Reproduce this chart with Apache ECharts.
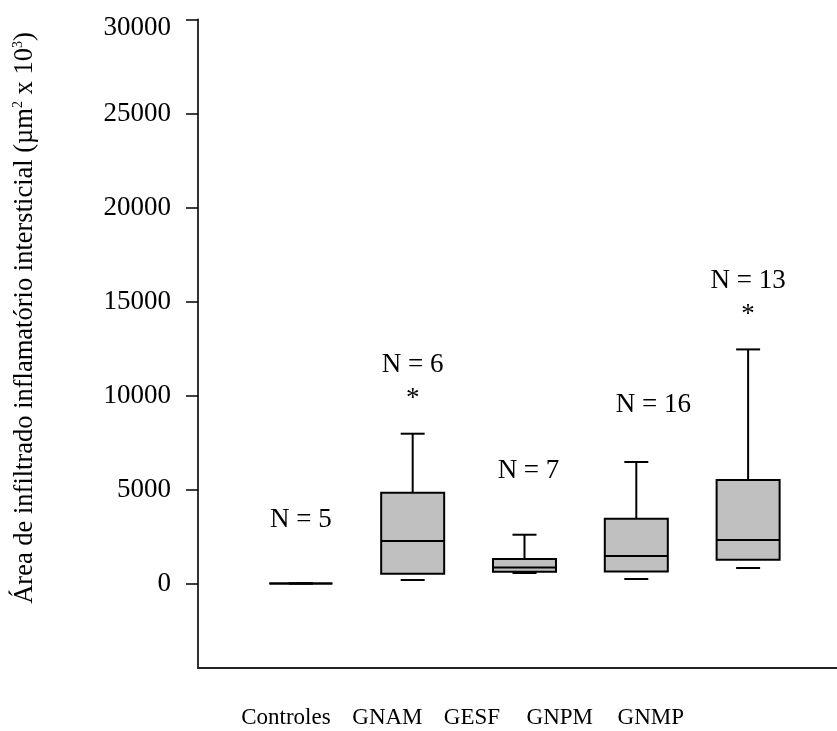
<!DOCTYPE html>
<html>
<head>
<meta charset="utf-8">
<script src="https://cdn.jsdelivr.net/npm/echarts@6/dist/echarts.min.js"></script>
<style>
  html, body { margin: 0; padding: 0; background: #fff; }
  #chart { width: 837px; height: 731px; }
</style>
</head>
<body>
<div id="chart"></div>
<script>
// ---- data ----
const categories   = ['Controles', 'GNAM', 'GESF', 'GNPM', 'GNMP'];
const minValues    = [0, 180, 553, 234, 819];
const q1Values     = [0, 516, 622, 638, 1261];
const medianValues = [0, 2255, 851, 1457, 2309];
const q3Values     = [0, 4825, 1298, 3442, 5500];
const maxValues    = [0, 7964, 2590, 6458, 12449];
const sampleSizes  = [5, 6, 7, 16, 13];
const significant  = [false, true, false, false, true];
const yTickValues  = [0, 5000, 10000, 15000, 20000, 25000, 30000];
const xTickValues  = [0.866, 1.774, 2.53, 3.316, 4.13];  // where category labels sit on the x scale

// ---- layout / style ----
const FONT = 'Liberation Serif';
const STYLE = {
  boxWidth: 63, capWidth: 24, boxFill: '#c0c0c0', stroke: '#000', lw: 2,
  nOffsetStar: 69, nOffsetPlain: 64, starOffset: 35,
  nDx: [0, 0, 4, 17, 0],
  nDy: [0, 0, 0, 7, 0]
};

const seriesData = categories.map((c, i) => [
  i + 1, minValues[i], q1Values[i], medianValues[i], q3Values[i], maxValues[i]
]);

function renderItem(params, api) {
  const i = params.dataIndex;
  const x = api.value(0);
  const pMin = api.coord([x, api.value(1)]);
  const pQ1  = api.coord([x, api.value(2)]);
  const pMed = api.coord([x, api.value(3)]);
  const pQ3  = api.coord([x, api.value(4)]);
  const pMax = api.coord([x, api.value(5)]);
  const cx = pMed[0];
  const hb = STYLE.boxWidth / 2, hc = STYLE.capWidth / 2;
  const ls = { stroke: STYLE.stroke, lineWidth: STYLE.lw };
  const children = [
    { type: 'line', shape: { x1: cx, y1: pQ3[1], x2: cx, y2: pMax[1] }, style: ls },
    { type: 'rect', shape: { x: cx - hb, y: pQ3[1], width: STYLE.boxWidth, height: pQ1[1] - pQ3[1] },
      style: { fill: STYLE.boxFill, stroke: STYLE.stroke, lineWidth: STYLE.lw } },
    { type: 'line', shape: { x1: cx - hb, y1: pMed[1], x2: cx + hb, y2: pMed[1] }, style: ls },
    { type: 'line', shape: { x1: cx - hc, y1: pMax[1], x2: cx + hc, y2: pMax[1] }, style: ls },
    { type: 'line', shape: { x1: cx - hc, y1: pMin[1], x2: cx + hc, y2: pMin[1] }, style: ls },
    { type: 'text', style: {
        text: 'N = ' + sampleSizes[i],
        x: cx + STYLE.nDx[i],
        y: pMax[1] - (significant[i] ? STYLE.nOffsetStar : STYLE.nOffsetPlain) + STYLE.nDy[i],
        align: 'center', verticalAlign: 'middle',
        font: '27px ' + FONT, fill: '#000' } }
  ];
  if (significant[i]) {
    children.push({ type: 'text', style: {
      text: '*', x: cx, y: pMax[1] - STYLE.starOffset,
      align: 'center', verticalAlign: 'middle',
      font: '27px ' + FONT, fill: '#000' } });
  }
  return { type: 'group', children: children };
}

const chart = echarts.init(document.getElementById('chart'), null, { renderer: 'canvas' });
chart.setOption({
  backgroundColor: '#fff',
  animation: false,
  textStyle: { fontFamily: FONT },
  grid: { left: 198, right: 0, top: 19.5, bottom: 63, containLabel: false },
  xAxis: {
    type: 'value', min: 0.08, max: 5.795,
    splitLine: { show: false },
    axisLine: { show: true, onZero: false, lineStyle: { color: '#222', width: 2 } },
    axisTick: { show: false },
    axisLabel: {
      customValues: xTickValues,
      formatter: function (v) {
        const k = xTickValues.findIndex(t => Math.abs(t - v) < 1e-6);
        return k >= 0 ? categories[k] : '';
      },
      margin: 38, fontFamily: FONT, fontSize: 23, color: '#000'
    }
  },
  yAxis: {
    type: 'value', min: -4500, max: 30000,
    splitLine: { show: false },
    axisLine: { show: true, onZero: false, lineStyle: { color: '#333', width: 2 } },
    axisTick: { show: true, customValues: yTickValues, length: 12, lineStyle: { color: '#000', width: 1.5 } },
    axisLabel: {
      customValues: yTickValues, margin: 27, fontFamily: FONT, fontSize: 27, color: '#000',
      formatter: function (v) { return v === 30000 ? '{low|' + v + '}' : String(v); },
      rich: { low: { fontFamily: FONT, fontSize: 27, color: '#000', padding: [16, 0, 0, 0] } }
    }
  },
  graphic: [{
    type: 'text', x: 25, y: 318, rotation: Math.PI / 2,
    style: {
      text: '{t|Área de infiltrado inflamatório intersticial (µm}{s|2}{t| x 10}{s|3}{t|)}',
      align: 'center', verticalAlign: 'middle',
      rich: {
        t: { fontFamily: FONT, fontSize: 26.5, fill: '#000', lineHeight: 28 },
        s: { fontFamily: FONT, fontSize: 14, fill: '#000', verticalAlign: 'top', lineHeight: 28 }
      }
    }
  }],
  series: [{
    type: 'custom',
    renderItem: renderItem,
    data: seriesData,
    encode: { x: 0, y: [1, 2, 3, 4, 5] },
    clip: false
  }]
});
</script>
</body>
</html>
